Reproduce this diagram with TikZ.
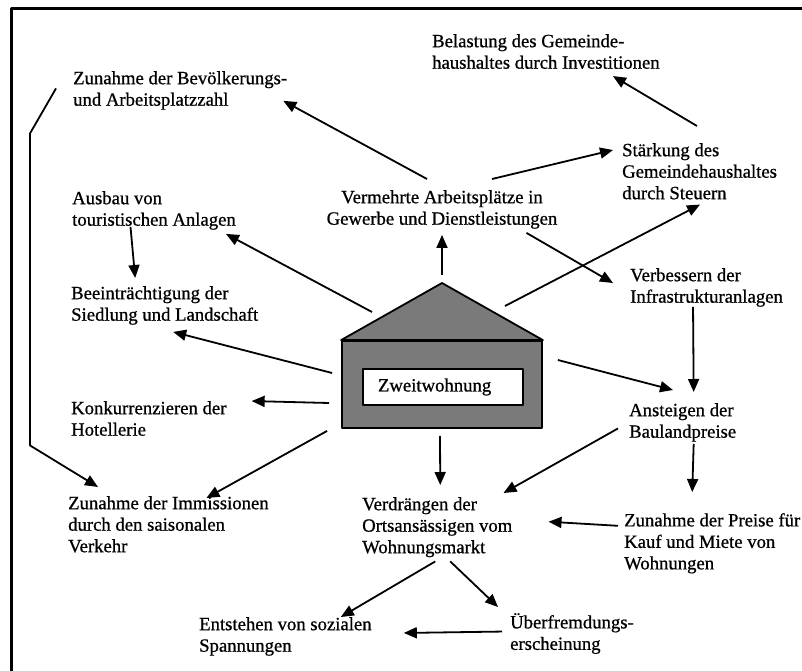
\documentclass[tikz,border=0pt]{standalone}
\usepackage{fontspec}
\setmainfont{Liberation Serif}[FakeBold=0.8]
\usetikzlibrary{calc,arrows.meta}

\begin{document}
\begin{tikzpicture}[x=1pt,y=1pt,>={Triangle[length=13pt,width=11pt]},line join=round,
    txt/.style={anchor=north west,inner sep=0pt,align=left,font=\fontsize{18.7}{21.5}\selectfont},
    arr/.style={->,line width=1.8pt}]
  \useasboundingbox (0,0) rectangle (802,-670);
  \draw[line width=3pt] (11,-672) -- (11,-8) -- (804,-8);

  \node[txt] (bel) at (432,-34) {Belastung des Gemeinde-\\haushaltes durch Investitionen};
  \node[txt] (bev) at (73,-71) {Zunahme der Bev\"olkerungs-\\und Arbeitsplatzzahl};
  \node[txt] (staerk) at (622,-143) {St\"arkung des\\Gemeindehaushaltes\\durch Steuern};
  \node[txt,anchor=north,align=center] (verm) at (442,-190) {Vermehrte Arbeitspl\"atze in\\Gewerbe und Dienstleistungen};
  \node[txt] (ausbau) at (72,-191) {Ausbau von\\touristischen Anlagen};
  \node[txt] (verb) at (630,-268) {Verbessern der\\Infrastrukturanlagen};
  \node[txt] (beein) at (71,-286) {Beeintr\"achtigung der\\Siedlung und Landschaft};
  \node[txt] (konk) at (71,-401) {Konkurrenzieren der\\Hotellerie};
  \node[txt] (anst) at (629,-403) {Ansteigen der\\Baulandpreise};
  \node[txt] (imm) at (68,-496) {Zunahme der Immissionen\\durch den saisonalen\\Verkehr};
  \node[txt] (verdr) at (362,-497) {Verdr\"angen der\\Ortsans\"assigen vom\\Wohnungsmarkt};
  \node[txt] (preise) at (624,-513) {Zunahme der Preise f\"ur\\Kauf und Miete von\\Wohnungen};
  \node[txt] (ueber) at (510,-613) {\"Uberfremdungs-\\erscheinung};
  \node[txt] (entst) at (199,-617) {Entstehen von sozialen\\Spannungen};

  \node[draw,line width=1.8pt,fill=black!52,minimum width=200pt,minimum height=87pt,inner sep=0pt] (house) at (442,-384.5) {};
  \coordinate (roof) at (442,-283);
  \draw[line width=1.8pt,fill=black!52] (house.north west) -- (roof) -- (house.north east) -- cycle;
  \node[draw,line width=1.8pt,fill=white,text width=130pt,inner xsep=15pt,minimum height=36pt,align=left,
    font=\fontsize{18.7}{21.5}\selectfont] (zweit) at (443,-387) {Zweitwohnung};

  \draw[arr] ($(verm.north)+(-15,11)$) -- ($(bev.south east)+(-4,9)$);
  \draw[arr] ($(verm.north)+(50,11)$) -- ($(staerk.north west)+(-9,-7)$);
  \draw[arr] ($(staerk.north west)+(75,17)$) -- ($(bel.south)+(67,-7)$);
  \draw[arr] ($(roof)+(63,-23)$) -- ($(staerk.south)+(0.5,-5)$);
  \draw[arr] ($(verm.south east)+(-31,-4)$) -- ($(verb.north west)+(-17,-15)$);
  \draw[arr] ($(verb.south)+(-13.5,0)$) -- ($(anst.north)+(11,11)$);
  \draw[arr] ($(house.east)+(15,24.5)$) -- ($(anst.north west)+(44,13)$);
  \draw[arr] ($(anst.south)+(11,-2)$) -- ($(preise.north)+(-20,21)$);
  \draw[arr] ($(anst.west)+(-11,-6)$) -- ($(verdr.north east)+(-9,4)$);
  \draw[arr] ($(preise.west)+(-6,17.5)$) -- ($(verdr.east)+(36,5.5)$);
  \draw[arr] ($(house.south)+(-2,-7)$) -- ($(verdr.north)+(3,12)$);
  \draw[arr] ($(verdr.south)+(-2,-4)$) -- ($(entst.north east)+(-31,0)$);
  \draw[arr] ($(verdr.south)+(13,-4)$) -- ($(ueber.north west)+(-12,6)$);
  \draw[arr] ($(ueber.west)+(-8,2)$) -- ($(entst.east)+(32,3.5)$);
  \draw[arr] ($(house.south west)+(-14,-2)$) -- ($(imm.north)+(38,-2)$);
  \draw[arr] ($(bev.west)+(-17,2)$) -- ++(-26,-45) -- ++(0,-312) -- ($(imm.north west)+(30,9)$);
  \draw[arr] ($(house.west)+(-9,11.5)$) -- ($(beein.south)+(8.5,-7)$);
  \draw[arr] ($(roof)+(-70,-29)$) -- ($(ausbau.south east)+(-10,-4)$);
  \draw[arr] ($(ausbau.south)+(-23.5,3)$) -- ($(beein.north)+(-29.5,8)$);
  \draw[arr] ($(house.west)+(-12,-18.5)$) -- ($(konk.east)+(25,17.5)$);
  \draw[arr] ($(roof)+(0,8)$) -- ($(verm.south)+(0,-6)$);
\end{tikzpicture}
\end{document}
